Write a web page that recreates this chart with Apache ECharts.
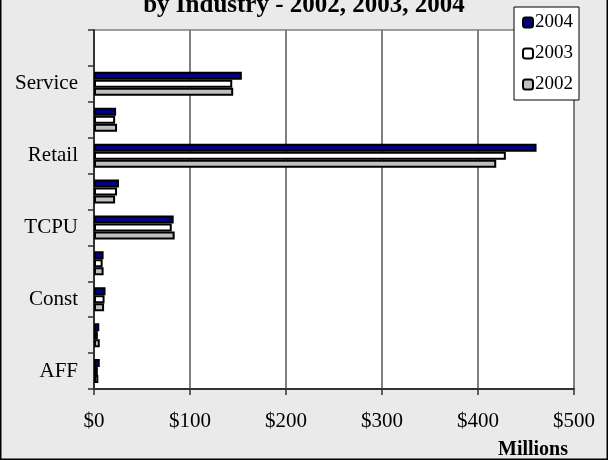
<!DOCTYPE html>
<html>
<head>
<meta charset="utf-8">
<script src="https://cdn.jsdelivr.net/npm/echarts@6/dist/echarts.min.js"></script>
<style>html,body{margin:0;padding:0;background:#eaeaea}#c{width:608px;height:460px}</style>
</head>
<body>
<div id="c"></div>
<script>
var categories = ['AFF', 'Mining', 'Const', 'Manuf', 'TCPU', 'Whsle', 'Retail', 'FIRE', 'Service', 'Other'];
var values2004 = [6, 5.5, 12, 10, 83, 26, 461, 23, 154, null];
var values2003 = [4, 4, 11, 9, 81, 24, 429, 22, 144, null];
var values2002 = [4.5, 6, 10.5, 10, 84, 22, 419, 24, 145, null];
var xTicks = [0, 100, 200, 300, 400, 500];
var font = 'Liberation Serif';

var chart = echarts.init(document.getElementById('c'));
function barSeries(name, data, color) {
  return {
    name: name, type: 'bar', data: data, barWidth: 8, barGap: '0%',
    itemStyle: { color: color, borderColor: '#000', borderWidth: 2 },
    animation: false
  };
}
chart.setOption({
  backgroundColor: '#eaeaea',
  animation: false,
  title: {
    text: 'by Industry - 2002, 2003, 2004',
    left: 'center', top: -7, padding: 0,
    textStyle: { fontFamily: font, fontWeight: 'bold', fontSize: 25, color: '#000' }
  },
  legend: {
    orient: 'vertical', right: 29, top: 7,
    padding: [6, 6, 6, 8], itemGap: 12,
    itemWidth: 10, itemHeight: 10,
    borderColor: '#000', borderWidth: 1,
    backgroundColor: '#ffffff',
    textStyle: { fontFamily: font, fontSize: 19, color: '#000', padding: [0, 0, 0, -3], lineHeight: 18 },
    data: ['2004', '2003', '2002'],
    itemStyle: { borderColor: '#000', borderWidth: 2 }
  },
  grid: {
    left: 94, right: 34, top: 30, bottom: 71,
    show: true, backgroundColor: '#ffffff', borderColor: '#808080', borderWidth: 1.5
  },
  xAxis: {
    type: 'value', min: xTicks[0], max: xTicks[xTicks.length - 1], interval: 100,
    axisLine: { show: true, lineStyle: { color: '#333', width: 2 } },
    axisTick: { show: true, inside: false, length: 6, lineStyle: { color: '#333', width: 1.5 } },
    splitLine: { show: true, lineStyle: { color: '#808080', width: 2 } },
    axisLabel: { fontFamily: font, fontSize: 21, color: '#000', margin: 22, formatter: function (v) { return '$' + v; } }
  },
  yAxis: {
    type: 'category', data: categories,
    axisLine: { show: true, lineStyle: { color: '#333', width: 2 } },
    axisTick: { show: true, interval: 0, length: 6, lineStyle: { color: '#333', width: 1.5 } },
    axisLabel: { interval: 1, fontFamily: font, fontSize: 21, color: '#000', margin: 16 },
    splitLine: { show: false }
  },
  series: [
    barSeries('2004', values2004, '#000080'),
    barSeries('2003', values2003, '#ffffff'),
    barSeries('2002', values2002, '#c0c0c0')
  ],
  graphic: [
    { type: 'rect', shape: { x: 0.75, y: -2, width: 606.5, height: 461.25 }, style: { fill: 'none', stroke: '#000', lineWidth: 1.5 }, silent: true },
    { type: 'text', left: 498, top: 440, style: { text: 'Millions', font: 'bold 20px "Liberation Serif"', fill: '#000' } }
  ]
});
</script>
</body>
</html>
